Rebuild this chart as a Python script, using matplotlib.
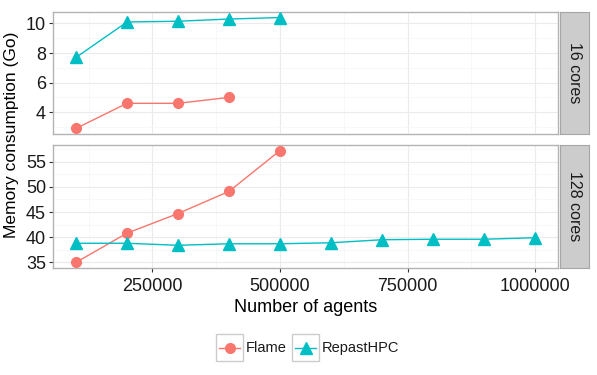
import numpy as np
import matplotlib.pyplot as plt
from matplotlib.lines import Line2D
from matplotlib.patches import Rectangle

plt.rcParams['font.family'] = ['Liberation Sans', 'DejaVu Sans']

# --- data ---
flame_x_16 = [100000, 200000, 300000, 400000]
flame_y_16 = [2.9, 4.6, 4.6, 5.0]
repast_x_16 = [100000, 200000, 300000, 400000, 500000]
repast_y_16 = [7.7, 10.1, 10.15, 10.3, 10.4]

flame_x_128 = [100000, 200000, 300000, 400000, 500000]
flame_y_128 = [35.0, 40.8, 44.7, 49.1, 57.2]
repast_x_128 = [100000, 200000, 300000, 400000, 500000, 600000, 700000, 800000, 900000, 1000000]
repast_y_128 = [38.8, 38.8, 38.4, 38.7, 38.7, 38.9, 39.5, 39.6, 39.6, 39.9]

panel_labels = ['16 cores', '128 cores']
series_names = ['Flame', 'RepastHPC']
red = '#F8766D'
cyan = '#00BFC4'

W, H = 597, 375
fig = plt.figure(figsize=(W / 100, H / 100), dpi=100)


def box(x0, y0, x1, y1):
    # pixel box (top-left origin) -> figure fraction rect
    return [x0 / W, 1 - y1 / H, (x1 - x0) / W, (y1 - y0) / H]


ax1 = fig.add_axes(box(53, 12, 558, 134))
ax2 = fig.add_axes(box(53, 145, 558, 268))

panels = [
    (ax1, flame_x_16, flame_y_16, repast_x_16, repast_y_16, [4, 6, 8, 10], [3, 5, 7, 9]),
    (ax2, flame_x_128, flame_y_128, repast_x_128, repast_y_128, [35, 40, 45, 50, 55],
     [37.5, 42.5, 47.5, 52.5, 57.5]),
]

for ax, fx, fy, rx, ry, yt, ymin in panels:
    ax.plot(fx, fy, color=red, marker='o', markersize=7, lw=1.0, zorder=3)
    ax.plot(rx, ry, color=cyan, marker='^', markersize=8.5, lw=1.0, zorder=3)
    ally = fy + ry
    ax.set_xlim(55000, 1045000)
    pad = (max(ally) - min(ally)) * 0.05
    ax.set_ylim(min(ally) - pad, max(ally) + pad)
    ax.set_xticks([250000, 500000, 750000, 1000000])
    ax.set_xticks([125000, 375000, 625000, 875000], minor=True)
    ax.set_yticks(yt)
    ax.set_yticks(ymin, minor=True)
    ax.grid(True, which='major', color='#EBEBEB', lw=0.8)
    ax.grid(True, which='minor', color='#F5F5F5', lw=0.5)
    ax.set_axisbelow(True)
    for s in ax.spines.values():
        s.set_color('#B3B3B3')
        s.set_linewidth(1.0)
    ax.tick_params(which='major', length=3, color='#333333', labelsize=13,
                   labelcolor='#1a1a1a', pad=2)
    ax.tick_params(which='minor', length=0)

ax1.tick_params(axis='x', labelbottom=False, length=0)
ax2.tick_params(axis='x', pad=4)
ax2.set_xticklabels(['250000', '500000', '750000', '1000000'])
ax2.set_xlabel('Number of agents', fontsize=13, labelpad=3)

fig.text(12 / W, 1 - 135 / H, 'Memory consumption (Go)', rotation=90,
         ha='center', va='center', fontsize=12.5)

# facet strips
for (y0, y1), lab in zip([(12, 134), (145, 268)], panel_labels):
    sax = fig.add_axes(box(560, y0, 589, y1))
    sax.set_xticks([])
    sax.set_yticks([])
    sax.set_facecolor('#CCCCCC')
    for s in sax.spines.values():
        s.set_color('#A6A6A6')
    sax.text(0.5, 0.5, lab, rotation=-90, ha='center', va='center',
             fontsize=11.5, color='#1a1a1a', transform=sax.transAxes)

# legend at bottom
lax = fig.add_axes([0, 0, 1, 1], facecolor='none')
lax.set_xlim(0, W)
lax.set_ylim(H, 0)
lax.axis('off')
keys = [(216, red, 'o', 7, series_names[0]), (292, cyan, '^', 8.5, series_names[1])]
for kx, col, mk, ms, name in keys:
    lax.add_patch(Rectangle((kx, 334), 27, 27, fill=False, edgecolor='#CCCCCC', lw=1.0))
    lax.add_line(Line2D([kx + 3, kx + 24], [347.5, 347.5], color=col, lw=1.0))
    lax.plot([kx + 13.5], [347.5], marker=mk, color=col, markersize=ms)
    lax.text(kx + 30, 348, name, ha='left', va='center', fontsize=10.5, color='#1a1a1a')

fig.savefig('out.png', dpi=100)
